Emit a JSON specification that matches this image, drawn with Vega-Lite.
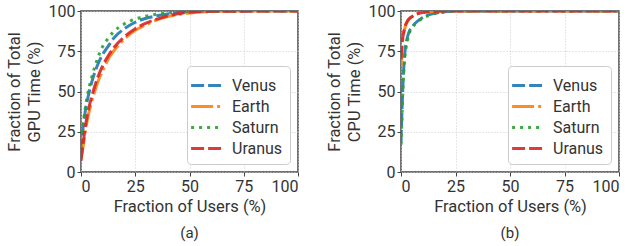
{
  "$schema": "https://vega.github.io/schema/vega-lite/v6.json",
  "background": "white",
  "padding": {"left": 5, "top": 2, "right": 5, "bottom": 2},
  "datasets": {
    "gpu": [
      {"s":"Venus","x":0,"y":12},{"s":"Venus","x":1,"y":28},{"s":"Venus","x":2,"y":38},{"s":"Venus","x":3,"y":45},{"s":"Venus","x":5,"y":56},{"s":"Venus","x":7.5,"y":66},{"s":"Venus","x":10,"y":73},{"s":"Venus","x":12.5,"y":78},{"s":"Venus","x":15,"y":83},{"s":"Venus","x":20,"y":89},{"s":"Venus","x":25,"y":93},{"s":"Venus","x":30,"y":95.5},{"s":"Venus","x":35,"y":97},{"s":"Venus","x":40,"y":98.2},{"s":"Venus","x":50,"y":99.5},{"s":"Venus","x":60,"y":99.9},{"s":"Venus","x":100,"y":100},
      {"s":"Earth","x":0,"y":8},{"s":"Earth","x":1,"y":16},{"s":"Earth","x":2,"y":25},{"s":"Earth","x":3,"y":33},{"s":"Earth","x":5,"y":44},{"s":"Earth","x":7.5,"y":55},{"s":"Earth","x":10,"y":63},{"s":"Earth","x":12.5,"y":70},{"s":"Earth","x":15,"y":75},{"s":"Earth","x":20,"y":82.5},{"s":"Earth","x":25,"y":88},{"s":"Earth","x":30,"y":91.5},{"s":"Earth","x":35,"y":94.5},{"s":"Earth","x":40,"y":96.5},{"s":"Earth","x":50,"y":98.7},{"s":"Earth","x":60,"y":99.6},{"s":"Earth","x":70,"y":100},{"s":"Earth","x":100,"y":100},
      {"s":"Saturn","x":0,"y":14},{"s":"Saturn","x":1,"y":30},{"s":"Saturn","x":2,"y":40},{"s":"Saturn","x":3,"y":48},{"s":"Saturn","x":5,"y":59},{"s":"Saturn","x":7.5,"y":70},{"s":"Saturn","x":10,"y":78},{"s":"Saturn","x":12.5,"y":83},{"s":"Saturn","x":15,"y":87},{"s":"Saturn","x":20,"y":92},{"s":"Saturn","x":25,"y":95},{"s":"Saturn","x":30,"y":96.8},{"s":"Saturn","x":35,"y":98},{"s":"Saturn","x":40,"y":98.8},{"s":"Saturn","x":50,"y":99.7},{"s":"Saturn","x":60,"y":100},{"s":"Saturn","x":100,"y":100},
      {"s":"Uranus","x":0,"y":7},{"s":"Uranus","x":1,"y":18},{"s":"Uranus","x":2,"y":28},{"s":"Uranus","x":3,"y":36},{"s":"Uranus","x":5,"y":47},{"s":"Uranus","x":7.5,"y":58},{"s":"Uranus","x":10,"y":66},{"s":"Uranus","x":12.5,"y":72},{"s":"Uranus","x":15,"y":77},{"s":"Uranus","x":20,"y":84},{"s":"Uranus","x":25,"y":89},{"s":"Uranus","x":30,"y":92.5},{"s":"Uranus","x":35,"y":95},{"s":"Uranus","x":40,"y":97},{"s":"Uranus","x":50,"y":99.2},{"s":"Uranus","x":60,"y":99.8},{"s":"Uranus","x":100,"y":100}
    ],
    "cpu": [
      {"s":"Venus","x":0,"y":18},{"s":"Venus","x":0.5,"y":40},{"s":"Venus","x":1,"y":58},{"s":"Venus","x":1.5,"y":70},{"s":"Venus","x":2,"y":77},{"s":"Venus","x":3,"y":84},{"s":"Venus","x":4,"y":88},{"s":"Venus","x":5,"y":90},{"s":"Venus","x":7,"y":93},{"s":"Venus","x":10,"y":96},{"s":"Venus","x":15,"y":98.5},{"s":"Venus","x":20,"y":99.5},{"s":"Venus","x":25,"y":100},{"s":"Venus","x":100,"y":100},
      {"s":"Earth","x":0,"y":65},{"s":"Earth","x":0.5,"y":78},{"s":"Earth","x":1,"y":84},{"s":"Earth","x":2,"y":90.5},{"s":"Earth","x":3,"y":93.5},{"s":"Earth","x":4,"y":95.5},{"s":"Earth","x":5,"y":96.5},{"s":"Earth","x":7,"y":98},{"s":"Earth","x":10,"y":99},{"s":"Earth","x":15,"y":99.7},{"s":"Earth","x":20,"y":100},{"s":"Earth","x":100,"y":100},
      {"s":"Saturn","x":0,"y":17},{"s":"Saturn","x":0.5,"y":36},{"s":"Saturn","x":1,"y":55},{"s":"Saturn","x":1.5,"y":67},{"s":"Saturn","x":2,"y":74},{"s":"Saturn","x":3,"y":82},{"s":"Saturn","x":4,"y":87},{"s":"Saturn","x":5,"y":89.5},{"s":"Saturn","x":7,"y":92.5},{"s":"Saturn","x":10,"y":95.5},{"s":"Saturn","x":15,"y":98.2},{"s":"Saturn","x":20,"y":99.3},{"s":"Saturn","x":25,"y":100},{"s":"Saturn","x":100,"y":100},
      {"s":"Uranus","x":0,"y":70},{"s":"Uranus","x":0.5,"y":80},{"s":"Uranus","x":1,"y":85},{"s":"Uranus","x":2,"y":91},{"s":"Uranus","x":3,"y":94},{"s":"Uranus","x":4,"y":95.5},{"s":"Uranus","x":5,"y":96.5},{"s":"Uranus","x":7,"y":98},{"s":"Uranus","x":10,"y":99},{"s":"Uranus","x":15,"y":99.7},{"s":"Uranus","x":20,"y":100},{"s":"Uranus","x":100,"y":100}
    ]
  },
  "config": {
    "font": "Roboto",
    "view": {"stroke": "#444", "strokeWidth": 1.5},
    "concat": {"spacing": 25},
    "axis": {
      "labelFontSize": 16, "titleFontSize": 16.5, "titleFontWeight": "normal",
      "labelColor": "#333", "titleColor": "#333",
      "gridColor": "#cccccc", "gridDash": [1, 2], "gridWidth": 1,
      "tickColor": "#444", "tickSize": 4, "domain": false, "labelPadding": 2
    },
    "axisY": {"titleLineHeight": 20, "titlePadding": 6},
    "axisX": {"titlePadding": 4},
    "legend": {
      "orient": "bottom-right", "offset": 8, "title": null,
      "labelFontSize": 16, "labelColor": "#333",
      "symbolType": "M-1.4,0H1.4", "symbolSize": 484, "symbolStrokeWidth": 3,
      "fillColor": "white", "strokeColor": "#cccccc", "padding": 7, "cornerRadius": 4,
      "rowPadding": 0, "labelOffset": 13
    },
    "title": {"fontSize": 15, "fontWeight": "normal", "color": "#333", "font": "Roboto"}
  },
  "resolve": {"legend": {"color": "independent", "strokeDash": "independent"}},
  "hconcat": [
    {
      "width": 217, "height": 161,
      "title": {"text": "(a)", "orient": "bottom", "offset": 11},
      "data": {"name": "gpu"},
      "mark": {"type": "line", "strokeWidth": 3, "interpolate": "monotone", "opacity": 0.9, "clip": true},
      "encoding": {
        "x": {"field": "x", "type": "quantitative", "scale": {"domain": [0, 100], "nice": false}, "axis": {"values": [0, 25, 50, 75, 100]}, "title": "Fraction of Users (%)"},
        "y": {"field": "y", "type": "quantitative", "scale": {"domain": [0, 100], "nice": false}, "axis": {"values": [0, 25, 50, 75, 100]}, "title": ["Fraction of Total", "GPU Time (%)"]},
        "color": {"field": "s", "type": "nominal", "scale": {"domain": ["Venus", "Earth", "Saturn", "Uranus"], "range": ["#1f77b4", "#ff7f0e", "#2ca02c", "#d62728"]}, "title": null},
        "strokeDash": {"field": "s", "type": "nominal", "scale": {"domain": ["Venus", "Earth", "Saturn", "Uranus"], "range": [[13, 4], [22, 4, 3, 4], [3, 5], [13, 4]]}, "title": null},
        "order": {"field": "x"}
      }
    },
    {
      "width": 218, "height": 161,
      "title": {"text": "(b)", "orient": "bottom", "offset": 11},
      "data": {"name": "cpu"},
      "mark": {"type": "line", "strokeWidth": 3, "interpolate": "monotone", "opacity": 0.9, "clip": true},
      "encoding": {
        "x": {"field": "x", "type": "quantitative", "scale": {"domain": [0, 100], "nice": false}, "axis": {"values": [0, 25, 50, 75, 100]}, "title": "Fraction of Users (%)"},
        "y": {"field": "y", "type": "quantitative", "scale": {"domain": [0, 100], "nice": false}, "axis": {"values": [0, 25, 50, 75, 100]}, "title": ["Fraction of Total", "CPU Time (%)"]},
        "color": {"field": "s", "type": "nominal", "scale": {"domain": ["Venus", "Earth", "Saturn", "Uranus"], "range": ["#1f77b4", "#ff7f0e", "#2ca02c", "#d62728"]}, "title": null},
        "strokeDash": {"field": "s", "type": "nominal", "scale": {"domain": ["Venus", "Earth", "Saturn", "Uranus"], "range": [[13, 4], [22, 4, 3, 4], [3, 5], [13, 4]]}, "title": null},
        "order": {"field": "x"}
      }
    }
  ]
}
